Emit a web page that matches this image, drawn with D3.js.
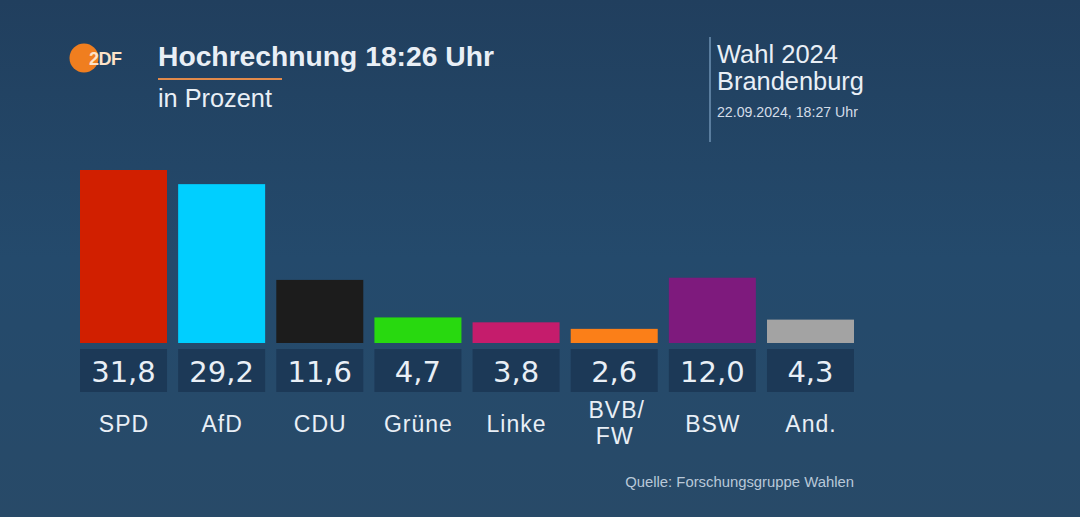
<!DOCTYPE html>
<html><head><meta charset="utf-8">
<script src="https://cdn.jsdelivr.net/npm/d3@7"></script>
<style>html,body{margin:0;padding:0;background:#23435f;}svg{display:block;}</style>
</head><body>
<svg id="c" width="1080" height="517"></svg>
<script>
const parties = ["SPD","AfD","CDU","Grüne","Linke","BVB/\nFW","BSW","And."];
const values = [31.8,29.2,11.6,4.7,3.8,2.6,12.0,4.3];
const colors = ["#d11f00","#00cfff","#1c1c1c","#28d90f","#c51c6c","#fb7f18","#7e1a7d","#a3a3a3"];

const svg = d3.select("#c");
const W = 1080, H = 517;
const defs = svg.append("defs");
const g = defs.append("linearGradient").attr("id","bg").attr("x1",0).attr("y1",0).attr("x2",0).attr("y2",1);
g.append("stop").attr("offset",0).attr("stop-color","#213f5e");
g.append("stop").attr("offset",0.5).attr("stop-color","#244a6c");
g.append("stop").attr("offset",1).attr("stop-color","#284a68");
svg.append("rect").attr("width",W).attr("height",H).attr("fill","url(#bg)");

const font = "'Liberation Sans', Arial, sans-serif";
const numFont = "'DejaVu Sans', sans-serif";
const txt = "#e9eff6";

// fit a text element's font size so its rendered width matches a target width
function fit(sel, target) {
  const node = sel.node();
  const s = parseFloat(sel.attr("font-size"));
  const w = node.getComputedTextLength();
  if (w > 0) sel.attr("font-size", (s * target / w).toFixed(2));
  return sel;
}

// Logo
svg.append("circle").attr("cx",84).attr("cy",58).attr("r",14.5).attr("fill","#f07e1f");
svg.append("text").attr("x",89).attr("y",65).attr("font-family",font).attr("font-size",18).attr("font-weight",700)
  .attr("fill","#fde3c8").attr("letter-spacing",-0.5).text("2DF");

// Title
fit(svg.append("text").attr("x",158).attr("y",66).attr("font-family",font).attr("font-size",25).attr("font-weight",700)
  .attr("fill",txt).text("Hochrechnung 18:26 Uhr"), 336);
svg.append("line").attr("x1",158).attr("x2",282).attr("y1",79).attr("y2",79).attr("stroke","#e18a4b").attr("stroke-width",2);
fit(svg.append("text").attr("x",158).attr("y",107).attr("font-family",font).attr("font-size",20)
  .attr("fill",txt).text("in Prozent"), 114);

// Right header
svg.append("line").attr("x1",710).attr("x2",710).attr("y1",37).attr("y2",142).attr("stroke","#5a7d9e").attr("stroke-width",2);
fit(svg.append("text").attr("x",717).attr("y",63).attr("font-family",font).attr("font-size",20).attr("fill",txt).text("Wahl 2024"), 121);
fit(svg.append("text").attr("x",717).attr("y",90).attr("font-family",font).attr("font-size",20).attr("fill",txt).text("Brandenburg"), 147);
fit(svg.append("text").attr("x",717).attr("y",117).attr("font-family",font).attr("font-size",12).attr("fill","#d4dde8").text("22.09.2024, 18:27 Uhr"), 141);

// Scales
const x = d3.scaleBand().domain(parties).range([80, 854]).paddingInner(0.1135).paddingOuter(0);
const baseline = 343;
const y = d3.scaleLinear().domain([0, 31.8]).range([baseline, 170]);

const groups = svg.selectAll("g.bar").data(parties).join("g").attr("class","bar");
groups.append("rect")
  .attr("x", d => x(d)).attr("width", x.bandwidth())
  .attr("y", (d,i) => y(values[i])).attr("height", (d,i) => baseline - y(values[i]))
  .attr("fill", (d,i) => colors[i]);
groups.append("rect")
  .attr("x", d => x(d)).attr("width", x.bandwidth())
  .attr("y", 349).attr("height", 43).attr("fill","#1c3957");
groups.append("text")
  .attr("x", d => x(d) + x.bandwidth()/2).attr("y", 382)
  .attr("text-anchor","middle").attr("font-family",numFont).attr("font-size",29)
  .attr("fill",txt).text((d,i) => values[i].toFixed(1).replace(".", ","));
groups.each(function(d){
  const lines = d.split("\n");
  const t = d3.select(this).append("text")
    .attr("text-anchor","middle").attr("font-family",font).attr("font-size",23)
    .attr("letter-spacing",1).attr("fill",txt);
  const cx = x(d) + x.bandwidth()/2 + 0.5;
  if (lines.length === 1) {
    t.append("tspan").attr("x",cx).attr("y",432).text(lines[0]);
  } else {
    t.append("tspan").attr("x",cx).attr("y",418).attr("dx",2).text(lines[0]);
    t.append("tspan").attr("x",cx).attr("y",444).text(lines[1]);
  }
});

fit(svg.append("text").attr("x",854).attr("y",487).attr("text-anchor","end").attr("font-family",font)
  .attr("font-size",13).attr("fill","#b9c8d8").text("Quelle: Forschungsgruppe Wahlen"), 229);
</script>
</body></html>
